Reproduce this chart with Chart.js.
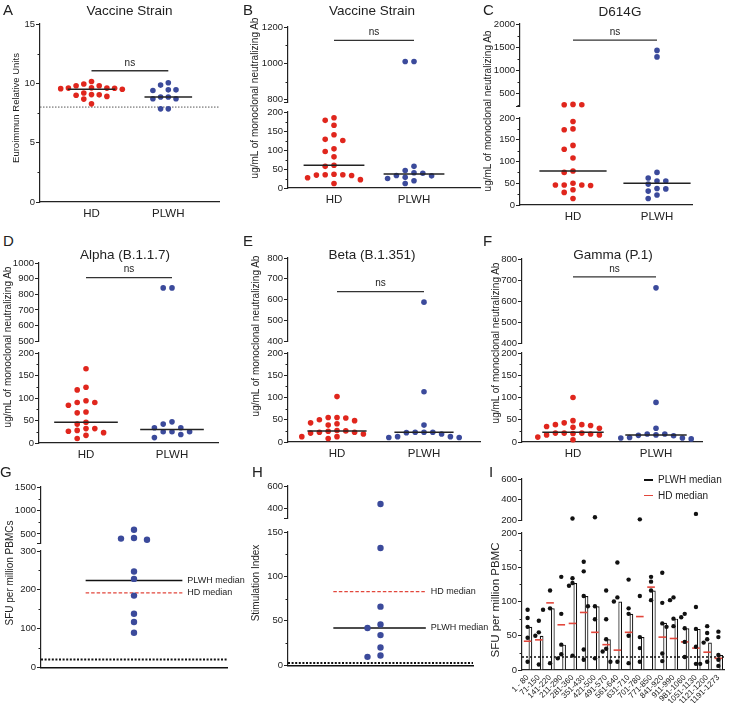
<!DOCTYPE html>
<html>
<head>
<meta charset="utf-8">
<title>Antibody and T cell responses, HD vs PLWH</title>
<script src="https://cdn.jsdelivr.net/npm/chart.js@4.4.1/dist/chart.umd.min.js"></script>
<style>
  body { margin: 0; background: #fff; }
  #fig { position: relative; width: 730px; height: 706px; overflow: hidden;
         font-family: 'Liberation Sans', Arial, Helvetica, sans-serif; color: #222; }
  #fig canvas { position: absolute; }
  .t { position: absolute; white-space: nowrap; line-height: 1; }
  .sw { position: absolute; height: 1.6px; }
</style>
</head>
<body>
<div id="fig"></div>
<script>
// values
const groups = ["HD", "PLWH"];

// A - Euroimmun relative units, vaccine strain
const hdA = [10.15, 9.95, 9.8, 9.8, 9.62, 9.6, 9.6, 9.58, 9.55, 9.5, 9.18, 9.05, 9.03, 9.0, 8.9, 8.67, 8.27];
const plwhA = [10.05, 9.85, 9.45, 9.45, 9.4, 8.85, 8.85, 8.7, 8.7, 7.85, 7.85];
const medA = [9.5, 8.84];
const nsA = 11.06;
const cutA = 8;

// B - vaccine strain neutralization
const hdB = [185, 178, 165, 140, 128, 125, 103, 96, 82, 60, 57, 36, 35, 35, 34, 33, 27, 22, 12];
const plwhB = [1010, 1010, 57, 46, 40, 39, 33, 32, 28, 25, 19, 12];
const medB = [60, 37];
const nsB = 1127;

// C - D614G
const hdC = [265, 258, 256, 192, 175, 173, 137, 128, 108, 78, 75, 50, 46, 46, 46, 45, 35, 29, 15];
const plwhC = [1430, 1290, 75, 62, 55, 55, 48, 38, 37, 32, 23, 15];
const medC = [78, 50];
const nsC = 1651;

// D - Alpha
const hdD = [165, 124, 118, 94, 90, 90, 84, 69, 67, 46, 42, 32, 32, 28, 26, 23, 17, 10];
const plwhD = [841, 841, 47, 42, 34, 34, 25, 25, 25, 19, 12];
const medD = [46, 30];
const nsD = 906;

// E - Beta
const hdE = [102, 55, 55, 54, 50, 48, 43, 41, 38, 26, 25, 24, 22, 22, 20, 18, 12, 12, 8];
const plwhE = [588, 113, 38, 22, 22, 22, 21, 18, 12, 12, 10, 10];
const medE = [25, 22];
const nsE = 639;

// F - Gamma
const hdF = [100, 48, 43, 39, 39, 37, 35, 33, 31, 20, 20, 20, 19, 18, 16, 16, 11, 5];
const plwhF = [663, 89, 31, 18, 18, 16, 15, 14, 10, 9, 9, 7];
const medF = [22, 16];
const nsF = 715;

// G - SFU per million PBMCs
const plwhG = [588, 413, 400, 375, 247, 228, 185, 138, 117, 89];
const medG = { plwh: 224, hd: 192 };
const cutG = 20;

// H - stimulation index
const plwhH = [437, 132, 66, 46, 42, 34, 20, 11, 9.5];
const medH = { plwh: 42, hd: 83 };
const cutH = 2.5;

// I - peptide pools
const iLabels = ["1 - 80", "71-150", "141-220", "211-290", "281-360", "351-430", "421-500",
  "491-570", "561-640", "631-710", "701-780", "771-850", "841-920", "911-990", "981-1060",
  "1051-1130", "1121-1200", "1191-1273"];
const iPlwh = [63, 50, 90, 37, 127, 108, 93, 45, 100, 82, 48, 116, 69, 75, 61, 60, 40, 22];
const iHd = [42, 44, 98, 66, 68, 84, 55, 37, 29, 55, 78, 121, 48, 46, 41, 32, 26, 17];
const iDots = [
  [88, 76, 63, 47, 12], [72, 55, 50, 8], [116, 90, 88, 10], [136, 82, 37, 23, 17],
  [218, 134, 127, 123, 21], [158, 144, 108, 30, 15], [229, 93, 93, 74, 17], [116, 74, 45, 31, 27],
  [157, 106, 100, 12, 12], [132, 90, 82, 50, 10], [209, 108, 48, 32, 12], [136, 129, 116, 102],
  [142, 98, 68, 24, 13], [106, 102, 75, 64, 63], [82, 77, 61, 41, 19], [262, 92, 60, 34, 9],
  [64, 54, 45, 40, 12, 9], [56, 48, 22, 15, 6]
];
const cutI = 19;

// ---------------------------------------------------------------
const fig = document.getElementById("fig");
const AXIS = "#222", RED = "#e0261d", BLUE = "#3b4a9b", DASHRED = "#e2473c";
const FONT = "'Liberation Sans', Arial, Helvetica, sans-serif";
Chart.defaults.font.family = FONT;
Chart.defaults.color = "#222";

const AXW = 34, PT = 10, PB = 3;

// greedy dot spreading like a prism scatter plot
function swarm(vals, pxY, step, diam) {
  const placed = [];
  return vals.map(v => {
    const y = v * pxY;
    for (let k = 0; k < 40; k++) {
      const off = (k % 2 ? -1 : 1) * Math.ceil(k / 2) * step;
      if (placed.every(p => Math.hypot(p.x - off, p.y - y) >= diam)) {
        placed.push({ x: off, y });
        return off;
      }
    }
    return 0;
  });
}

function hline(x0, x1, y, color, width, dash, axis, order) {
  return {
    type: "line", xAxisID: axis || "x", data: [{ x: x0, y }, { x: x1, y }],
    borderColor: color, borderWidth: width, borderDash: dash || [],
    pointRadius: 0, fill: false, clip: false, order: order == null ? 2 : order
  };
}

function dots(pts, color, r, axis) {
  return {
    type: "scatter", xAxisID: axis || "x", data: pts, pointRadius: r,
    pointBackgroundColor: color, pointBorderWidth: 0, clip: false, order: 0
  };
}

function yScale(seg) {
  return {
    type: "linear", position: "left", min: seg.min, max: seg.max,
    afterBuildTicks: s => { s.ticks = seg.ticks.map(v => ({ value: v })); },
    afterFit: s => { s.width = AXW; },
    grid: { drawOnChartArea: false, tickLength: 4, tickColor: AXIS, tickWidth: 1 },
    border: { display: true, color: AXIS, width: 1.2 },
    ticks: { font: { size: 9.5 }, color: "#222", padding: 1, autoSkip: false, callback: v => String(v) }
  };
}

// small minor ticks and the end tick of a broken axis segment
function minorTicks(seg) {
  return {
    id: "minorTicks",
    afterDraw(chart) {
      const y = chart.scales.y, a = chart.chartArea, ctx = chart.ctx;
      const marks = [];
      if (seg.minor) {
        for (let v = Math.ceil(seg.min / seg.minor) * seg.minor; v <= seg.max + 1e-6; v += seg.minor) {
          if (!seg.ticks.some(t => Math.abs(t - v) < 1e-6)) marks.push([v, 2.5]);
        }
      }
      if (seg.breakEnd) marks.push([seg.min, 4]);
      ctx.save();
      ctx.strokeStyle = AXIS;
      ctx.lineWidth = 1;
      marks.forEach(([v, len]) => {
        const py = Math.round(y.getPixelForValue(v)) + 0.5;
        ctx.beginPath();
        ctx.moveTo(a.left - len, py);
        ctx.lineTo(a.left, py);
        ctx.stroke();
      });
      ctx.restore();
    }
  };
}

function notes(items) {
  return {
    id: "notes",
    afterDatasetsDraw(chart) {
      const ctx = chart.ctx;
      items.forEach(it => {
        const xs = chart.scales[it.axis || "x"], ys = chart.scales.y;
        ctx.save();
        ctx.font = it.size + "px " + FONT;
        ctx.fillStyle = "#222";
        ctx.textAlign = it.align || "center";
        ctx.textBaseline = it.baseline || "bottom";
        ctx.fillText(it.text, xs.getPixelForValue(it.x) + (it.dx || 0), ys.getPixelForValue(it.y) + (it.dy || 0));
        ctx.restore();
      });
    }
  };
}

function makeChart(seg, x0, x1, xh, type, data, scales, items, pr) {
  const PR = pr || 8;
  const left = Math.round(x0), top = Math.round(seg.y0);
  const w = Math.round(x1) - left, h = Math.round(seg.y1) - top;
  const cv = document.createElement("canvas");
  cv.width = w + AXW + PR;
  cv.height = h + PT + xh + PB;
  cv.style.left = (left - AXW) + "px";
  cv.style.top = (top - PT) + "px";
  fig.appendChild(cv);
  return new Chart(cv, {
    type, data,
    options: {
      responsive: false, animation: false, events: [],
      layout: { autoPadding: false, padding: { left: 0, top: PT, right: PR, bottom: PB } },
      plugins: { legend: { display: false }, tooltip: { enabled: false } },
      scales: Object.assign({ y: yScale(seg) }, scales)
    },
    plugins: [minorTicks(seg), notes(items || [])]
  });
}

function label(str, x, base, size, center) {
  const d = document.createElement("div");
  d.className = "t";
  d.textContent = str;
  d.style.fontSize = size + "px";
  d.style.left = x + "px";
  d.style.top = (base - 0.85 * size) + "px";
  if (center) d.style.transform = "translateX(-50%)";
  fig.appendChild(d);
}

function vlabel(str, x, cy, size) {
  const d = document.createElement("div");
  d.className = "t";
  d.textContent = str;
  d.style.fontSize = size + "px";
  d.style.left = x + "px";
  d.style.top = cy + "px";
  d.style.transform = "translate(-50%,-50%) rotate(-90deg)";
  fig.appendChild(d);
}

// HD vs PLWH scatter dot plot, optionally with a broken y axis
function strip(p) {
  const unit = p.cats[1] - p.cats[0];
  const xmin = 1 - (p.cats[0] - p.x0) / unit, xmax = 2 + (p.x1 - p.cats[1]) / unit;
  const segs = p.top ? [p.top, p.bot] : [p.bot];
  segs.forEach(seg => {
    const bottom = seg === p.bot;
    const pxY = (seg.y1 - seg.y0) / (seg.max - seg.min);
    const ds = [];
    [p.hd, p.plwh].forEach((vals, g) => {
      const v = vals.filter(d => bottom ? d <= p.bot.max : d > p.bot.max);
      const off = swarm(v, pxY, p.step, 6);
      ds.push(dots(v.map((d, i) => ({ x: g + 1 + off[i] / unit, y: d })), g ? BLUE : RED, 2.8));
    });
    const items = [];
    if (bottom) p.med.forEach((m, g) => ds.push(hline(g + 1 - p.mw, g + 1 + p.mw, m, AXIS, 1.5, null, "x", -1)));
    if (bottom && p.cut != null) ds.push(hline(xmin, xmax, p.cut, "#555", 1, [1.5, 1.5]));
    if (p.ns > seg.min && p.ns <= seg.max) {
      ds.push(hline(1, 2, p.ns, "#333", 1.3));
      items.push({ text: "ns", x: 1.5, y: p.ns, size: 10, dy: -3 });
    }
    const x = bottom ? {
      type: "linear", min: xmin, max: xmax, offset: false,
      afterBuildTicks: s => { s.ticks = [{ value: 1 }, { value: 2 }]; },
      afterFit: s => { s.height = 22; },
      grid: { display: false, drawTicks: false, tickLength: 0 },
      border: { display: true, color: AXIS, width: 1.2 },
      ticks: { font: { size: 11.5 }, color: "#222", padding: 5, autoSkip: false, maxRotation: 0,
               callback: (v, i) => groups[i] }
    } : { type: "linear", min: xmin, max: xmax, offset: false, display: false };
    makeChart(seg, p.x0, p.x1, bottom ? 22 : 0, "scatter", { datasets: ds }, { x }, items);
  });
}

// PLWH only dot plot with HD / PLWH median lines
function single(p) {
  const unit = p.x1 - p.x0;
  [p.top, p.bot].forEach(seg => {
    const bottom = seg === p.bot;
    const pxY = (seg.y1 - seg.y0) / (seg.max - seg.min);
    const v = p.vals.filter(d => bottom ? d <= p.bot.max : d > p.bot.max);
    const off = swarm(v, pxY, 13, 6.5);
    const ds = [dots(v.map((d, i) => ({ x: 0.5 + off[i] / unit, y: d })), BLUE, 3.2)];
    const items = [];
    if (bottom) {
      ds.push(hline(p.span[0], p.span[1], p.med.plwh, "#111", 1.4));
      ds.push(hline(p.span[0], p.span[1], p.med.hd, DASHRED, 1.2, [3.5, 2]));
      ds.push(hline(0, 1, p.cut, "#111", 2, [2, 1.6]));
      items.push({ text: "PLWH median", x: p.span[1], y: p.med.plwh, size: 9, align: "left", baseline: "middle", dx: 5 });
      items.push({ text: "HD median", x: p.span[1], y: p.med.hd, size: 9, align: "left", baseline: "middle", dx: 5 });
    }
    const x = bottom ? {
      type: "linear", min: 0, max: 1, offset: false,
      afterFit: s => { s.height = 0; },
      grid: { display: false, drawTicks: false, tickLength: 0 },
      border: { display: true, color: "#111", width: 1.4 },
      ticks: { display: false }
    } : { type: "linear", min: 0, max: 1, offset: false, display: false };
    makeChart(seg, p.x0, p.x1, 0, "scatter", { datasets: ds }, { x }, items, 70);
  });
}

// bars of PLWH medians per peptide pool with dots and HD median marks
function pools(p) {
  const n = iLabels.length;
  const unit = (p.x1 - p.x0) / n;
  [p.top, p.bot].forEach(seg => {
    const bottom = seg === p.bot;
    const pxY = (seg.y1 - seg.y0) / (seg.max - seg.min);
    const pts = [];
    iDots.forEach((col, i) => {
      const v = col.filter(d => bottom ? d <= p.bot.max : d > p.bot.max);
      const off = swarm(v, pxY, 3.5, 4.2);
      v.forEach((d, k) => pts.push({ x: i + off[k] / unit, y: d }));
    });
    const ds = [dots(pts, "#111", 2.2, "xl")];
    const scales = {
      xl: { type: "linear", min: -0.5, max: n - 0.5, offset: false, display: false },
      x: { type: "linear", offset: false, display: false }
    };
    if (bottom) {
      ds.push({
        type: "scatter", xAxisID: "xl", data: iHd.map((v, i) => ({ x: i, y: v })),
        pointStyle: "line", pointRadius: 3.8, pointBorderColor: DASHRED, pointBorderWidth: 1.6,
        clip: false, order: 1
      });
      ds.push(hline(-0.5, n - 0.5, cutI, "#111", 1.5, [2, 2], "xl"));
      ds.push({
        type: "bar", xAxisID: "x", data: iPlwh, backgroundColor: "#fff", borderColor: "#111",
        borderWidth: 1.2, barPercentage: 0.66, categoryPercentage: 1, order: 3
      });
      scales.x = {
        type: "category", labels: iLabels, offset: true,
        afterFit: s => { s.height = 33; },
        grid: { display: false, drawTicks: false, tickLength: 0 },
        border: { display: true, color: AXIS, width: 1.2 },
        ticks: { font: { size: 8 }, color: "#222", minRotation: 45, maxRotation: 45, autoSkip: false, padding: 3 }
      };
    }
    makeChart(seg, p.x0, p.x1, bottom ? 33 : 0, bottom ? "bar" : "scatter",
      bottom ? { labels: iLabels, datasets: ds } : { datasets: ds }, scales, [], 6);
  });
}

const t50 = [0, 50, 100, 150, 200];

strip({ x0: 40, x1: 219, cats: [91.5, 168.3], step: 7.7, mw: 0.31,
  hd: hdA, plwh: plwhA, med: medA, ns: nsA, cut: cutA,
  bot: { y0: 24, y1: 202, min: 0, max: 15, ticks: [0, 5, 10, 15], minor: 2.5 } });

strip({ x0: 288, x1: 480, cats: [334, 414], step: 8.8, mw: 0.38,
  hd: hdB, plwh: plwhB, med: medB, ns: nsB,
  top: { y0: 27, y1: 106, min: 786, max: 1200, ticks: [800, 1000, 1200], minor: 100, breakEnd: true },
  bot: { y0: 112, y1: 188, min: 0, max: 200, ticks: t50, minor: 25 } });

strip({ x0: 520, x1: 692, cats: [573, 657], step: 8.8, mw: 0.4,
  hd: hdC, plwh: plwhC, med: medC, ns: nsC,
  top: { y0: 24, y1: 110, min: 224, max: 2000, ticks: [500, 1000, 1500, 2000], minor: 250, breakEnd: true },
  bot: { y0: 118, y1: 205, min: 0, max: 200, ticks: t50, minor: 25 } });

strip({ x0: 39, x1: 218, cats: [86, 172], step: 8.8, mw: 0.37,
  hd: hdD, plwh: plwhD, med: medD, ns: nsD,
  top: { y0: 263, y1: 345, min: 500, max: 1000, ticks: [500, 600, 700, 800, 900, 1000] },
  bot: { y0: 353, y1: 443, min: 0, max: 200, ticks: t50, minor: 25 } });

strip({ x0: 288, x1: 480, cats: [337, 424], step: 8.8, mw: 0.34,
  hd: hdE, plwh: plwhE, med: medE, ns: nsE,
  top: { y0: 258, y1: 345, min: 400, max: 800, ticks: [400, 500, 600, 700, 800] },
  bot: { y0: 353, y1: 442, min: 0, max: 200, ticks: t50, minor: 25 } });

strip({ x0: 522, x1: 702, cats: [573, 656], step: 8.8, mw: 0.37,
  hd: hdF, plwh: plwhF, med: medF, ns: nsF,
  top: { y0: 259, y1: 347, min: 400, max: 800, ticks: [400, 500, 600, 700, 800] },
  bot: { y0: 353, y1: 442, min: 0, max: 200, ticks: t50, minor: 25 } });

single({ x0: 41, x1: 227, vals: plwhG, med: medG, cut: cutG, span: [0.24, 0.76],
  top: { y0: 487, y1: 547, min: 300, max: 1500, ticks: [500, 1000, 1500], minor: 250, breakEnd: true },
  bot: { y0: 551, y1: 671, min: 0, max: 300, ticks: [0, 100, 200, 300], minor: 50 } });

single({ x0: 288, x1: 473, vals: plwhH, med: medH, cut: cutH, span: [0.245, 0.745],
  top: { y0: 486, y1: 522, min: 307, max: 600, ticks: [400, 600], breakEnd: true },
  bot: { y0: 532, y1: 669, min: 0, max: 150, ticks: [0, 50, 100, 150], minor: 25 } });

pools({ x0: 522, x1: 724,
  top: { y0: 479, y1: 524, min: 200, max: 600, ticks: [200, 400, 600] },
  bot: { y0: 533, y1: 670, min: 0, max: 200, ticks: t50, minor: 25 } });

// panel letters
[["A", 3, 15], ["B", 243, 15], ["C", 483, 15], ["D", 3, 246], ["E", 243, 246], ["F", 483, 246],
 ["G", 0, 477], ["H", 252, 477], ["I", 489, 477]].forEach(([s, x, b]) => label(s, x, b, 15));

// panel titles
label("Vaccine Strain", 129.5, 15, 13.5, true);
label("Vaccine Strain", 372, 15, 13.5, true);
label("D614G", 620, 16, 13.5, true);
label("Alpha (B.1.1.7)", 125, 259, 13.5, true);
label("Beta (B.1.351)", 372, 259, 13.5, true);
label("Gamma (P.1)", 613, 259, 13.5, true);

// y axis titles
const abTitle = "ug/mL of monoclonal neutralizing Ab";
vlabel("Euroimmun Relative Units", 15.5, 108, 9.5);
vlabel(abTitle, 255, 98, 10);
vlabel(abTitle, 488, 111, 10);
vlabel(abTitle, 8, 347, 10);
vlabel(abTitle, 256, 336, 10);
vlabel(abTitle, 496, 343, 10);
vlabel("SFU per million PBMCs", 10, 573, 10);
vlabel("Stimulation Index", 255.5, 583, 10);
vlabel("SFU per million PBMC", 496, 600, 11.5);

// legend of panel I
[["PLWH median", "#111", 480], ["HD median", DASHRED, 495.7]].forEach(([s, c, y]) => {
  const sw = document.createElement("div");
  sw.className = "sw";
  sw.style.left = "644px";
  sw.style.top = (y - 0.8) + "px";
  sw.style.width = "9px";
  sw.style.background = c;
  fig.appendChild(sw);
  label(s, 658, y + 3.5, 10);
});
</script>
</body>
</html>
